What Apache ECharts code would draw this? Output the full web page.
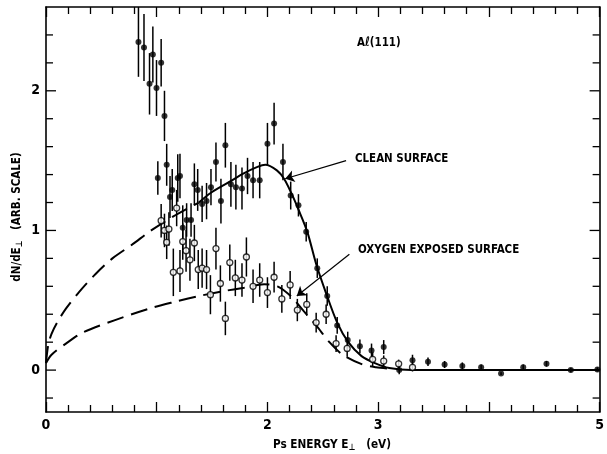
<!DOCTYPE html>
<html><head><meta charset="utf-8">
<script src="https://cdn.jsdelivr.net/npm/echarts@6/dist/echarts.min.js"></script>
<style>html,body{margin:0;padding:0;background:#fff}#c{width:607px;height:454px}</style>
</head><body><div id="c"></div>
<script>
// ---- tick labels ----
const xTickLabels = ['0', '', '2', '3', '', '5'];
const yTickLabels = [0, 1, 2];
const yMajorTicks = [0, 1, 2];
const yMinorTicks = [-0.2, 0.2, 0.4, 0.6, 0.8, 1.2, 1.4, 1.6, 1.8, 2.2, 2.4];

// ---- clean surface data [E, dN/dE, error] ----
const cleanPoints = [
  [0.835, 2.35, 0.25], [0.885, 2.31, 0.24], [0.935, 2.05, 0.22], [0.965, 2.26, 0.2],
  [0.998, 2.02, 0.2], [1.04, 2.20, 0.17], [1.07, 1.82, 0.18], [1.09, 1.47, 0.15],
  [1.01, 1.375, 0.12], [1.12, 1.24, 0.15], [1.14, 1.29, 0.15], [1.19, 1.375, 0.17],
  [1.21, 1.39, 0.16], [1.235, 1.02, 0.16], [1.27, 1.075, 0.12], [1.31, 1.075, 0.12],
  [1.34, 1.33, 0.15], [1.37, 1.29, 0.15], [1.41, 1.19, 0.13], [1.45, 1.21, 0.13],
  [1.49, 1.31, 0.13], [1.535, 1.49, 0.14], [1.58, 1.21, 0.16], [1.62, 1.61, 0.16],
  [1.67, 1.33, 0.16], [1.715, 1.31, 0.16], [1.77, 1.30, 0.15], [1.82, 1.39, 0.13],
  [1.87, 1.36, 0.13], [1.93, 1.36, 0.13], [2.0, 1.62, 0.15], [2.06, 1.765, 0.15],
  [2.14, 1.49, 0.13], [2.21, 1.25, 0.1], [2.28, 1.18, 0.08], [2.35, 0.99, 0.07],
  [2.45, 0.73, 0.07], [2.54, 0.53, 0.07], [2.63, 0.32, 0.06], [2.725, 0.215, 0.06],
  [2.835, 0.17, 0.05], [2.94, 0.14, 0.05], [3.05, 0.165, 0.05], [3.19, 0.0, 0.03],
  [3.31, 0.07, 0.04], [3.45, 0.06, 0.03], [3.60, 0.04, 0.025], [3.76, 0.03, 0.025],
  [3.93, 0.02, 0.02], [4.11, -0.025, 0.01], [4.31, 0.02, 0.02], [4.52, 0.045, 0.02],
  [4.74, 0.0, 0.015], [4.98, 0.005, 0.015]
];
// ---- oxygen exposed surface data [E, dN/dE, error] ----
const oxygenPoints = [
  [1.04, 1.07, 0.12], [1.07, 1.0, 0.12], [1.09, 0.915, 0.12], [1.11, 1.01, 0.12],
  [1.15, 0.70, 0.17], [1.18, 1.16, 0.13], [1.21, 0.71, 0.15], [1.235, 0.92, 0.13],
  [1.265, 0.855, 0.15], [1.30, 0.79, 0.15], [1.34, 0.91, 0.13], [1.375, 0.72, 0.14],
  [1.41, 0.73, 0.14], [1.45, 0.72, 0.14], [1.485, 0.54, 0.14], [1.535, 0.87, 0.15],
  [1.575, 0.62, 0.13], [1.62, 0.37, 0.12], [1.66, 0.77, 0.13], [1.71, 0.66, 0.13],
  [1.77, 0.645, 0.12], [1.81, 0.81, 0.14], [1.87, 0.60, 0.12], [1.93, 0.645, 0.12],
  [2.0, 0.555, 0.11], [2.06, 0.665, 0.11], [2.13, 0.51, 0.1], [2.205, 0.61, 0.1],
  [2.27, 0.43, 0.08], [2.355, 0.47, 0.08], [2.44, 0.34, 0.07], [2.53, 0.40, 0.07],
  [2.62, 0.19, 0.06], [2.72, 0.155, 0.06], [2.95, 0.077, 0.05], [3.05, 0.065, 0.04],
  [3.185, 0.045, 0.03], [3.31, 0.02, 0.03]
];
// ---- fitted curves ----
const cleanCurveDashed = [
  [0, 0.05], [0.02, 0.18], [0.05, 0.26], [0.1, 0.34], [0.18, 0.44], [0.3, 0.56],
  [0.45, 0.69], [0.6, 0.80], [0.78, 0.90], [0.95, 1.0], [1.15, 1.10], [1.38, 1.20]
];
const cleanCurveSolid = [
  [1.38, 1.20], [1.49, 1.27], [1.64, 1.34], [1.79, 1.41], [1.91, 1.455], [1.98, 1.47],
  [2.085, 1.43], [2.15, 1.37], [2.22, 1.26], [2.28, 1.15], [2.36, 0.99], [2.44, 0.76],
  [2.53, 0.55], [2.63, 0.34], [2.73, 0.20], [2.85, 0.10], [2.97, 0.05], [3.1, 0.015],
  [3.3, 0.0], [3.6, 0.0], [4.0, 0.0], [4.5, 0.0], [5.0, 0.0]
];
const oxygenCurve = [
  [0, 0.05], [0.05, 0.11], [0.18, 0.19], [0.335, 0.27], [0.63, 0.36], [0.93, 0.44],
  [1.17, 0.49], [1.38, 0.53], [1.6, 0.565], [1.79, 0.59], [1.97, 0.615], [2.09, 0.60],
  [2.21, 0.53], [2.33, 0.42], [2.44, 0.32], [2.56, 0.20], [2.68, 0.11], [2.86, 0.04],
  [2.98, 0.02], [3.1, 0.01]
];
// ---- annotation arrows (data coords: from label to curve) ----
const cleanArrow = [[2.71, 1.50], [2.16, 1.37]];
const oxygenArrow = [[2.74, 0.83], [2.265, 0.53]];

const FONT = "'Liberation Sans Narrow','DejaVu Sans Condensed','Arial Narrow',sans-serif";
const chart = echarts.init(document.getElementById('c'));

function errRender(params, api) {
  const x = api.value(0), y = api.value(1), e = api.value(2);
  const p1 = api.coord([x, y - e]), p2 = api.coord([x, y + e]);
  return {type: 'line', shape: {x1: p1[0], y1: p1[1], x2: p2[0], y2: p2[1]},
          style: {stroke: '#000', lineWidth: 1.5}};
}
function yTickRender(params, api) {
  const v = api.value(0), major = api.value(1) === 1;
  const len = major ? 10 : 7;
  const pl = api.coord([0, v]), pr = api.coord([5, v]);
  return {type: 'group', children: [
    {type: 'line', shape: {x1: pl[0], y1: pl[1], x2: pl[0] + len, y2: pl[1]}, style: {stroke: '#000', lineWidth: 1.3}},
    {type: 'line', shape: {x1: pr[0], y1: pr[1], x2: pr[0] - len, y2: pr[1]}, style: {stroke: '#000', lineWidth: 1.3}}
  ]};
}
const xAxisBase = {
  type: 'value', min: 0, max: 5, interval: 1,
  axisLine: {show: true, onZero: false, lineStyle: {color: '#000', width: 1.6}},
  axisTick: {show: true, inside: true, length: 10, lineStyle: {color: '#000', width: 1.3}},
  minorTick: {show: true, splitNumber: 5, length: 7, lineStyle: {color: '#000', width: 1.3}},
  splitLine: {show: false}
};
const yAxisBase = {
  type: 'value', min: -0.3, max: 2.6, interval: 0.1,
  axisLine: {show: true, onZero: false, lineStyle: {color: '#000', width: 1.6}},
  axisTick: {show: false}, splitLine: {show: false}
};
const tickData = yMajorTicks.map(v => [v, 1]).concat(yMinorTicks.map(v => [v, 0]));
const SUB = {s: {fontSize: 9, fontWeight: 'bold', fontFamily: FONT, padding: [6, 0, 0, 0]}};

chart.setOption({
  animation: false,
  backgroundColor: '#fff',
  grid: {left: 46, right: 1, top: 7, bottom: 42},
  xAxis: [
    Object.assign({}, xAxisBase, {position: 'bottom',
      axisLabel: {show: true, margin: 6, color: '#000', fontWeight: 'bold', fontSize: 14, fontFamily: FONT,
        formatter: v => { const i = Math.round(v); return Math.abs(v - i) < 1e-6 ? (xTickLabels[i] || '') : ''; }}}),
    Object.assign({}, xAxisBase, {position: 'top', axisLabel: {show: false}})
  ],
  yAxis: [
    Object.assign({}, yAxisBase, {position: 'left',
      axisLabel: {show: true, margin: 6, color: '#000', fontWeight: 'bold', fontSize: 14, fontFamily: FONT,
        formatter: v => { const i = Math.round(v); return (Math.abs(v - i) < 1e-6 && yTickLabels.indexOf(i) >= 0) ? String(i) : ''; }}}),
    Object.assign({}, yAxisBase, {position: 'right', axisLabel: {show: false}})
  ],
  graphic: [
    {type: 'text', x: 357, y: 43, scaleX: 0.88, style: {text: 'Aℓ(111)', textVerticalAlign: 'middle', font: 'bold 13px ' + FONT, fill: '#000'}},
    {type: 'text', x: 355, y: 159, scaleX: 0.88, style: {text: 'CLEAN SURFACE', textVerticalAlign: 'middle', font: 'bold 13px ' + FONT, fill: '#000'}},
    {type: 'text', x: 358, y: 250, scaleX: 0.88, style: {text: 'OXYGEN EXPOSED SURFACE', textVerticalAlign: 'middle', font: 'bold 13px ' + FONT, fill: '#000'}},
    {type: 'text', x: 332, y: 445, scaleX: 0.9, style: {text: 'Ps ENERGY E{s|⊥}   (eV)', textAlign: 'center', textVerticalAlign: 'middle',
      font: 'bold 13px ' + FONT, fill: '#000', rich: SUB}},
    {type: 'text', x: 17, y: 217, rotation: Math.PI / 2, scaleX: 0.885, style: {text: 'dN/dE{s|⊥}   (ARB. SCALE)', textAlign: 'center', textVerticalAlign: 'middle',
      font: 'bold 13px ' + FONT, fill: '#000', rich: SUB}}
  ],
  series: [
    {type: 'custom', name: 'yticks', xAxisIndex: 0, yAxisIndex: 0, renderItem: yTickRender, data: tickData, silent: true, z: 3},
    {type: 'line', name: 'clean-dashed', data: cleanCurveDashed, showSymbol: false, smooth: 0.3,
      lineStyle: {color: '#000', width: 2, type: [17, 8]}, z: 2},
    {type: 'line', name: 'clean', data: cleanCurveSolid, showSymbol: false, smooth: 0.3,
      lineStyle: {color: '#000', width: 2}, z: 2,
      markLine: {silent: true, symbol: ['none', 'arrow'], symbolSize: 9, label: {show: false},
        lineStyle: {color: '#000', width: 1.2, type: 'solid'},
        data: [[{coord: cleanArrow[0]}, {coord: cleanArrow[1]}], [{coord: oxygenArrow[0]}, {coord: oxygenArrow[1]}]]}},
    {type: 'line', name: 'oxygen', data: oxygenCurve, showSymbol: false, smooth: 0.3,
      lineStyle: {color: '#000', width: 2, type: [17, 8]}, z: 2},
    {type: 'custom', name: 'clean-err', renderItem: errRender, data: cleanPoints, z: 4},
    {type: 'custom', name: 'oxygen-err', renderItem: errRender, data: oxygenPoints, z: 4},
    {type: 'scatter', name: 'clean-pts', data: cleanPoints.map(p => [p[0], p[1]]), symbol: 'circle', symbolSize: 6,
      itemStyle: {color: '#000'}, z: 5},
    {type: 'scatter', name: 'oxygen-pts', data: oxygenPoints.map(p => [p[0], p[1]]), symbol: 'circle', symbolSize: 6,
      itemStyle: {color: '#fff', borderColor: '#000', borderWidth: 1.3}, z: 5}
  ]
});
</script></body></html>
